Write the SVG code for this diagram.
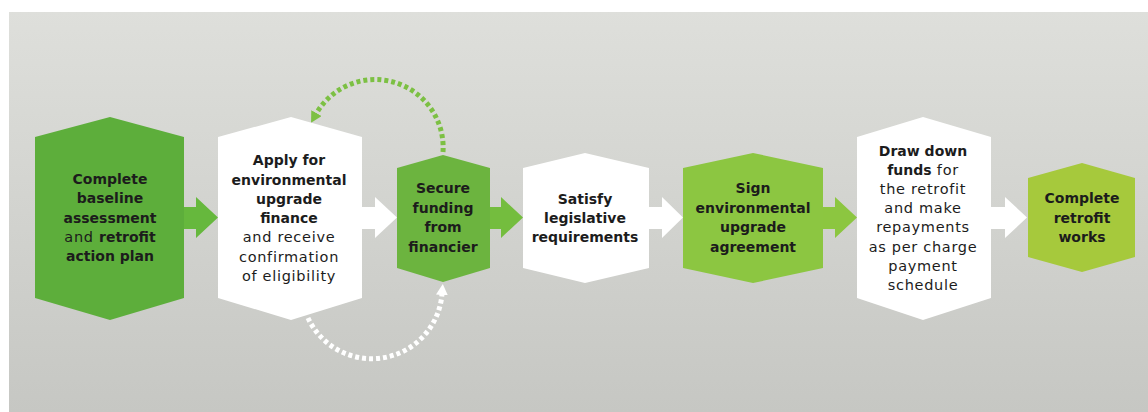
<svg xmlns="http://www.w3.org/2000/svg" width="1148" height="412" viewBox="0 0 1148 412">
  <defs>
    <linearGradient id="bg" x1="0" y1="0" x2="0" y2="1">
      <stop offset="0" stop-color="#dedfdb"/>
      <stop offset="1" stop-color="#c6c7c3"/>
    </linearGradient>
    <marker id="headGreen" markerUnits="userSpaceOnUse" markerWidth="14" markerHeight="14" refX="1" refY="6" orient="auto">
      <path d="M0,0 L11,6 L0,12 Z" fill="#7cc043"/>
    </marker>
    <marker id="headWhite" markerUnits="userSpaceOnUse" markerWidth="14" markerHeight="14" refX="1" refY="6" orient="auto">
      <path d="M0,0 L11,6 L0,12 Z" fill="#ffffff"/>
    </marker>
    <style>
      .lbl { font-family: "DejaVu Sans", "Liberation Sans", sans-serif; font-size: 14px; fill: #1c1c1c; text-anchor: middle; }
      .b { font-weight: bold; }
      .r { font-weight: normal; font-size: 14.5px; letter-spacing: 0.7px; }
      .white { fill: #ffffff; }
      .dots { fill: none; stroke-width: 5; stroke-dasharray: 4 3; }
    </style>
  </defs>

  <!-- backdrop -->
  <rect x="0" y="0" width="1148" height="412" fill="#ffffff"/>
  <rect x="9" y="12" width="1139" height="400" fill="url(#bg)"/>

  <!-- connectors -->
  <g id="connectors">
    <polygon points="184,207 196,207 196,197 218,217.5 196,238 196,229 184,229" fill="#66b83d"/>
    <polygon points="362,207 375,207 375,197 397,217.5 375,238 375,229 362,229" fill="#ffffff"/>
    <polygon points="490,207 501,207 501,197 523,217.5 501,238 501,229 490,229" fill="#74bd3e"/>
    <polygon points="649,207 662,207 662,197 683,217.5 662,238 662,229 649,229" fill="#ffffff"/>
    <polygon points="823,207 835,207 835,197 857,217.5 835,238 835,229 823,229" fill="#8cc640"/>
    <polygon points="991,207 1005,207 1005,197 1027,217.5 1005,238 1005,229 991,229" fill="#ffffff"/>
    <!-- loop: financier back to application -->
    <path class="dots" d="M443,152 A68,68 0 0 0 316,114" stroke="#7cc043" marker-end="url(#headGreen)"/>
    <!-- loop: application on to financier -->
    <path class="dots" d="M308,318 A70.4,70.4 0 0 0 442,294" stroke="#ffffff" marker-end="url(#headWhite)"/>
  </g>

  <g id="node-baseline">
    <polygon points="35,137 110,117 184,137 184,298 110,320 35,298" fill="#5dae3b"/>
    <text class="lbl b" x="110" y="184">Complete</text>
    <text class="lbl b" x="110" y="203">baseline</text>
    <text class="lbl b" x="110" y="223">assessment</text>
    <text class="lbl" x="110" y="242"><tspan class="r">and </tspan><tspan class="b">retrofit</tspan></text>
    <text class="lbl b" x="110" y="261">action plan</text>
  </g>

  <g id="node-apply">
    <polygon points="218,137 291,117 362,137 362,298 291,320 218,298" fill="#ffffff"/>
    <text class="lbl b" x="289" y="165">Apply for</text>
    <text class="lbl b" x="289" y="185">environmental</text>
    <text class="lbl b" x="289" y="204">upgrade</text>
    <text class="lbl b" x="289" y="223">finance</text>
    <text class="lbl r" x="289" y="242">and receive</text>
    <text class="lbl r" x="289" y="262">confirmation</text>
    <text class="lbl r" x="289" y="281">of eligibility</text>
  </g>

  <g id="node-secure">
    <polygon points="397,168 443,155 490,168 490,268 443,282 397,268" fill="#6cb43f"/>
    <text class="lbl b" x="443" y="193">Secure</text>
    <text class="lbl b" x="443" y="213">funding</text>
    <text class="lbl b" x="443" y="232">from</text>
    <text class="lbl b" x="443" y="252">financier</text>
  </g>

  <g id="node-satisfy">
    <polygon points="523,168 585,153 649,168 649,268 585,283 523,268" fill="#ffffff"/>
    <text class="lbl b" x="585" y="204">Satisfy</text>
    <text class="lbl b" x="585" y="223">legislative</text>
    <text class="lbl b" x="585" y="242">requirements</text>
  </g>

  <g id="node-sign">
    <polygon points="683,168 753,153 823,168 823,268 753,283 683,268" fill="#8cc641"/>
    <text class="lbl b" x="753" y="193">Sign</text>
    <text class="lbl b" x="753" y="213">environmental</text>
    <text class="lbl b" x="753" y="232">upgrade</text>
    <text class="lbl b" x="753" y="252">agreement</text>
  </g>

  <g id="node-drawdown">
    <polygon points="857,137 923,117 991,137 991,298 923,320 857,298" fill="#ffffff"/>
    <text class="lbl b" x="923" y="156">Draw down</text>
    <text class="lbl" x="923" y="175"><tspan class="b">funds</tspan><tspan class="r"> for</tspan></text>
    <text class="lbl r" x="923" y="194">the retrofit</text>
    <text class="lbl r" x="923" y="213">and make</text>
    <text class="lbl r" x="923" y="232">repayments</text>
    <text class="lbl r" x="923" y="252">as per charge</text>
    <text class="lbl r" x="923" y="271">payment</text>
    <text class="lbl r" x="923" y="290">schedule</text>
  </g>

  <g id="node-works">
    <polygon points="1028,178 1082,163 1135,178 1135,257 1082,272 1028,257" fill="#a6c93c"/>
    <text class="lbl b" x="1082" y="203">Complete</text>
    <text class="lbl b" x="1082" y="223">retrofit</text>
    <text class="lbl b" x="1082" y="242">works</text>
  </g>
</svg>
